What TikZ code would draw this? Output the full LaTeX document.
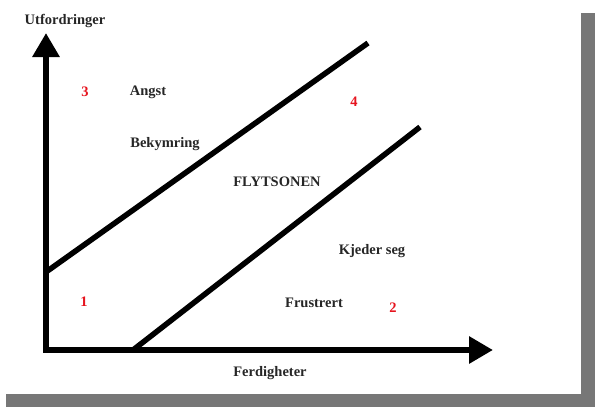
\documentclass[tikz,border=0pt]{standalone}
\usepackage{fontspec}
\setmainfont{Liberation Serif}
\usetikzlibrary{arrows.meta}
\definecolor{shadowgray}{RGB}{119,119,119}
\definecolor{numred}{RGB}{230,20,30}
\tikzset{
  axis/.style={line width=6pt, line join=miter, {Triangle[length=24pt,width=26pt]}-{Triangle[length=24pt,width=26pt]}},
  diag/.style={line width=5.5pt},
  lbl/.style={font=\fontsize{14.5}{16}\selectfont\bfseries, text=black!85, inner sep=0pt},
  num/.style={font=\fontsize{14.5}{16}\selectfont\bfseries, text=numred, inner sep=0pt}
}
\begin{document}
\begin{tikzpicture}[x=1pt,y=-1pt]
\useasboundingbox (0,0) rectangle (595,407);
% shadow
\fill[shadowgray] (581,13) rectangle (595,407);
\fill[shadowgray] (6,394) rectangle (595,407);
% axes
\coordinate (ytip) at (46,33);
\coordinate (origin) at (46,350);
\coordinate (xtip) at (493,350);
\draw[axis] (ytip) -- (origin) -- (xtip);
% diagonals
\coordinate (u1) at (46,272);
\coordinate (u2) at (368,43);
\coordinate (l1) at (133,350);
\coordinate (l2) at (420,127);
\draw[diag] (u1) -- (u2);
\draw[diag] (l1) -- (l2);
% labels
\node[lbl] (yl) at (65,21) {Utfordringer};
\node[lbl] (xl) at (270,373) {Ferdigheter};
\node[num] (n3) at (85,92) {3};
\node[lbl] (angst) at (148,92) {Angst};
\node[lbl] (bek) at (165,144) {Bekymring};
\node[num] (n4) at (354,102) {4};
\node[lbl] (flyt) at (277,182) {FLYTSONEN};
\node[lbl] (kjed) at (372,251) {Kjeder seg};
\node[num] (n1) at (84,302) {1};
\node[lbl] (frus) at (314,303) {Frustrert};
\node[num] (n2) at (393,308) {2};
\end{tikzpicture}
\end{document}
